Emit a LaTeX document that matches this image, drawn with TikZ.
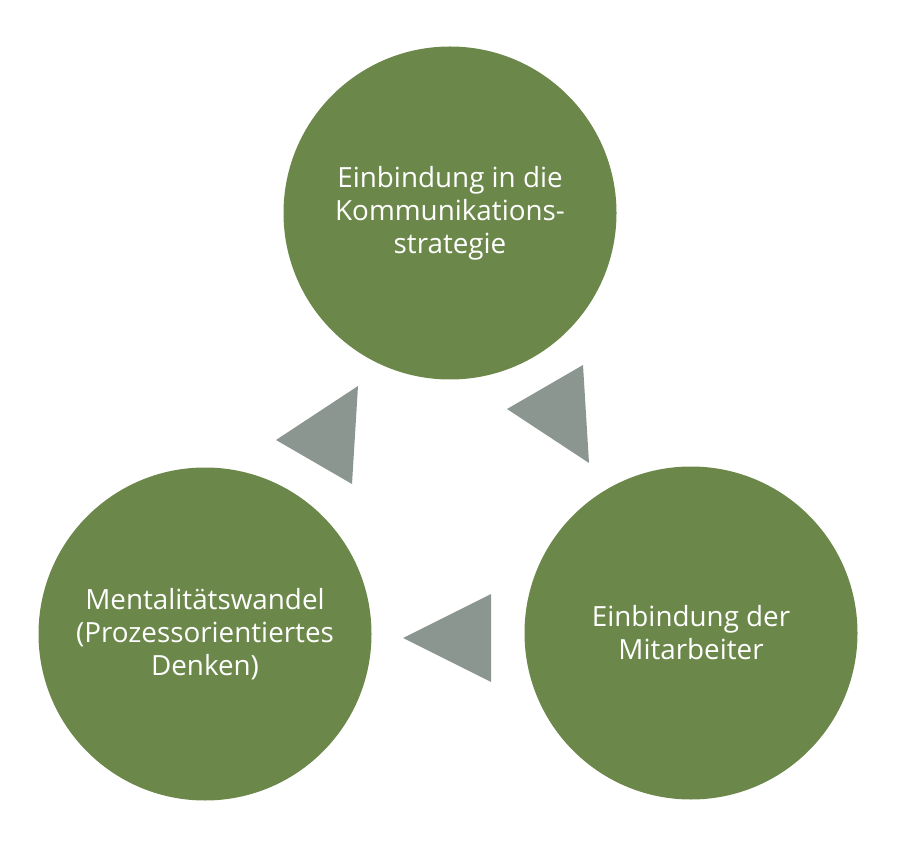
\documentclass[tikz,border=0pt]{standalone}
\usepackage{fontspec}
\setmainfont{Open Sans}
\definecolor{leaf}{RGB}{108,135,74}
\definecolor{slate}{RGB}{139,150,145}
\begin{document}
\begin{tikzpicture}[x=1pt,y=1pt,
  bubble/.style={circle, fill=leaf, draw=none, minimum size=333pt, inner sep=0pt,
    text=white, align=center, font=\fontsize{27.8}{33}\selectfont},
  wedge/.style={fill=slate, draw=none}]
\useasboundingbox (0,0) rectangle (909,844);
\node[bubble] (top) at (450,631) {Einbindung in die\\Kommunikations-\\strategie};
\node[bubble] (left) at (205,210) {Mentalitätswandel\\(Prozessorientiertes\\Denken)};
\node[bubble] (right) at (691,211) {Einbindung der\\Mitarbeiter};
% arrow wedges
\coordinate (a1) at (276,404);
\coordinate (a2) at (358,458);
\coordinate (a3) at (352,360);
\fill[wedge] (a1) -- (a2) -- (a3) -- cycle;
\coordinate (b1) at (507,435);
\coordinate (b2) at (583,479);
\coordinate (b3) at (589,381);
\fill[wedge] (b1) -- (b2) -- (b3) -- cycle;
\coordinate (c1) at (403,206);
\coordinate (c2) at (491,250);
\coordinate (c3) at (491,162);
\fill[wedge] (c1) -- (c2) -- (c3) -- cycle;
\end{tikzpicture}
\end{document}
